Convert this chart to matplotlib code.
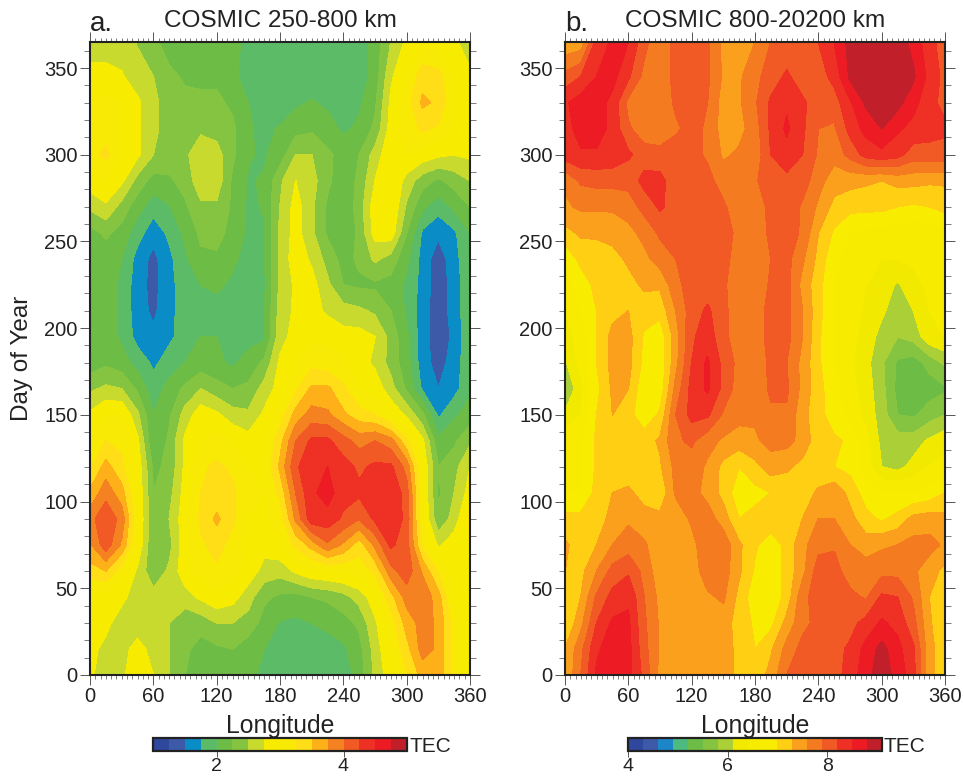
import matplotlib
matplotlib.use("Agg")
import matplotlib.pyplot as plt
import numpy as np
from matplotlib.ticker import MultipleLocator

plt.rcParams['font.family'] = ['Liberation Sans', 'DejaVu Sans']

lon = list(range(0, 361, 15))
day = list(range(0, 346, 15)) + [365]

# Panel a: TEC, rows run from day 0 to day 365, columns from longitude 0 to 360
tec_a = [
[2.8,2.6,2.7,2.9,2.75,2.5,2.25,2.1,2.2,2.25,2.05,1.95,1.85,1.8,1.8,1.8,1.85,2.1,2.55,2.9,3.2,3.6,3.7,3.1,2.8],
[2.8,2.7,2.65,2.85,2.65,2.5,2.3,2.15,2.2,2.25,2.1,2.0,1.9,1.85,1.85,1.9,1.95,2.15,2.6,3.0,3.4,3.85,3.7,3.1,2.8],
[2.85,2.8,2.65,2.6,2.55,2.5,2.3,2.35,2.5,2.5,2.4,2.15,1.98,1.95,2.0,2.05,2.15,2.3,2.7,3.1,3.6,3.85,3.7,3.1,2.8],
[2.85,2.9,2.8,2.65,2.6,2.6,2.65,2.8,2.95,2.85,2.6,2.3,2.2,2.15,2.25,2.3,2.4,2.6,2.9,3.4,3.85,3.95,3.6,2.9,2.8],
[3.4,3.5,3.1,2.7,2.3,2.55,2.9,3.1,3.2,3.1,2.9,2.65,2.6,2.8,2.95,3.0,3.05,3.1,3.3,3.9,4.15,3.7,3.2,2.9,2.85],
[3.7,4.15,3.7,2.95,2.25,2.4,2.9,3.2,3.35,3.15,2.95,2.85,2.95,3.3,3.6,3.95,3.7,3.35,3.8,4.3,4.1,3.2,2.7,2.9,3.0],
[3.9,4.2,3.9,3.0,2.25,2.5,2.9,3.3,3.55,3.3,3.0,2.95,3.1,3.8,4.4,4.4,4.2,4.0,4.3,4.5,4.15,3.0,2.3,2.6,3.1],
[3.55,3.9,3.6,2.95,2.25,2.4,2.85,3.25,3.35,3.3,3.05,3.0,3.3,4.0,4.45,4.6,4.35,4.3,4.45,4.5,4.1,3.0,2.2,2.5,2.85],
[3.2,3.6,3.3,2.9,2.2,2.3,2.8,3.2,3.3,3.2,3.0,3.0,3.55,4.2,4.45,4.5,4.35,4.2,4.3,4.3,3.9,2.95,2.25,2.4,2.75],
[3.1,3.25,3.2,2.8,2.0,2.3,2.8,3.0,3.1,3.0,2.85,2.95,3.4,4.0,4.3,4.3,4.1,3.9,4.0,3.85,3.3,2.8,2.05,2.2,2.45],
[2.8,3.0,3.0,2.55,2.0,2.2,2.6,2.9,2.8,2.6,2.55,2.8,3.1,3.6,3.85,3.8,3.55,3.35,3.25,2.95,2.7,2.3,1.7,1.95,2.1],
[2.45,2.55,2.5,2.2,1.85,2.1,2.3,2.5,2.35,2.25,2.3,2.6,2.85,3.2,3.55,3.55,3.3,3.0,2.9,2.6,2.2,1.7,1.5,1.65,1.95],
[2.1,2.2,2.1,1.9,1.7,1.85,2.0,2.1,2.05,1.95,2.1,2.3,2.8,3.0,3.15,3.1,3.05,2.85,2.7,2.4,2.1,1.6,1.4,1.6,1.95],
[2.1,2.15,1.95,1.65,1.55,1.7,1.85,2.0,2.0,1.9,1.9,1.95,2.65,2.85,2.95,2.95,2.85,2.85,2.75,2.4,2.05,1.6,1.35,1.55,1.95],
[2.1,2.15,1.95,1.6,1.45,1.65,1.9,1.95,1.9,1.85,1.85,1.98,2.6,2.8,2.85,2.7,2.6,2.55,2.45,2.25,1.95,1.6,1.35,1.6,1.95],
[2.1,2.1,1.95,1.6,1.42,1.65,1.9,2.0,2.05,1.95,1.85,1.95,2.55,2.8,2.85,2.55,2.25,2.2,2.2,2.15,1.95,1.65,1.35,1.6,1.95],
[2.1,2.1,2.0,1.65,1.42,1.68,1.95,2.2,2.2,2.05,1.9,1.97,2.55,2.9,2.7,2.4,2.15,2.3,2.55,2.4,2.05,1.65,1.35,1.65,1.95],
[2.15,2.3,2.15,1.85,1.6,1.8,2.05,2.3,2.35,2.15,1.95,1.97,2.55,2.85,2.55,2.2,2.05,2.3,2.85,2.9,2.25,1.7,1.55,1.7,2.0],
[2.55,2.7,2.4,2.1,1.85,1.98,2.2,2.45,2.45,2.2,1.95,2.02,2.5,2.85,2.55,2.2,2.05,2.35,2.9,3.0,2.45,2.05,1.85,2.05,2.25],
[2.9,3.0,2.8,2.4,2.15,2.2,2.35,2.65,2.65,2.2,1.98,2.02,2.45,2.75,2.6,2.3,2.1,2.3,2.75,3.0,2.65,2.35,2.2,2.35,2.5],
[3.15,3.3,3.0,2.8,2.5,2.4,2.45,2.65,2.6,2.3,2.02,1.97,2.1,2.5,2.5,2.3,2.15,2.25,2.6,2.95,3.0,2.9,2.8,2.75,2.8],
[3.05,3.15,3.0,2.8,2.55,2.4,2.35,2.45,2.4,2.3,2.02,1.95,2.02,2.15,2.2,2.1,1.95,2.05,2.3,2.85,3.1,3.3,3.2,2.95,2.85],
[3.0,3.05,3.0,2.8,2.55,2.4,2.3,2.3,2.3,2.2,2.0,1.85,1.85,1.95,2.02,1.95,1.9,1.95,2.2,2.8,3.1,3.55,3.45,3.0,2.85],
[2.85,2.85,2.78,2.6,2.5,2.3,2.22,2.2,2.2,2.05,1.9,1.85,1.85,1.85,1.85,1.85,1.85,1.85,2.1,2.7,3.0,3.4,3.35,2.9,2.8],
[2.6,2.6,2.6,2.48,2.3,2.15,2.1,2.1,2.1,2.05,1.95,1.85,1.85,1.85,1.85,1.85,1.85,1.85,2.1,2.5,2.8,2.95,2.9,2.8,2.6],
]

# Panel b: TEC, same layout
tec_b = [
[7.3,7.9,8.55,8.65,8.6,8.1,7.5,7.45,7.45,7.45,7.45,7.2,7.1,7.4,7.9,8.0,8.05,8.1,8.3,8.7,8.95,8.7,8.3,7.4,7.1],
[7.3,7.8,8.45,8.65,8.6,8.0,7.55,7.45,7.45,7.45,7.45,7.2,7.0,7.25,7.7,8.0,8.05,8.1,8.25,8.6,8.9,8.6,8.25,7.4,7.1],
[7.0,7.5,8.2,8.55,8.55,7.95,7.55,7.45,7.45,7.45,7.45,7.15,6.95,6.9,7.4,7.8,8.0,8.05,8.1,8.3,8.55,8.4,8.0,7.35,7.0],
[7.0,7.3,7.95,8.3,8.45,7.9,7.5,7.4,7.4,7.55,7.65,7.2,6.8,6.75,7.1,7.8,8.05,8.1,8.0,7.85,8.25,8.2,7.85,7.3,7.0],
[7.3,7.2,7.6,8.0,8.15,7.8,7.4,7.35,7.45,7.75,7.75,7.35,6.95,6.8,7.1,7.5,8.05,8.05,7.7,7.75,7.8,7.8,7.65,7.45,7.2],
[7.35,7.15,7.3,7.6,7.75,7.65,7.35,7.3,7.5,7.8,7.8,7.35,7.05,6.8,7.1,7.5,7.8,7.85,7.6,7.45,7.55,7.6,7.7,7.7,7.55],
[7.1,7.1,7.15,7.4,7.55,7.4,7.4,7.4,7.65,7.75,7.45,7.0,7.1,7.2,7.1,7.3,7.6,7.6,7.4,7.1,6.95,7.1,7.4,7.45,7.4],
[6.7,6.7,7.1,7.3,7.35,7.2,7.05,7.65,7.7,7.5,7.2,6.8,6.9,7.0,7.1,7.15,7.35,7.5,7.2,6.85,6.7,6.7,6.7,6.8,7.0],
[6.65,6.65,7.05,7.15,7.15,7.15,7.25,7.7,7.75,7.55,7.2,7.0,7.2,7.45,7.35,7.2,7.1,7.0,6.9,6.55,6.1,6.0,6.2,6.4,6.5],
[6.6,6.65,7.05,7.1,7.15,7.15,7.35,7.85,7.95,7.7,7.55,7.45,7.55,7.7,7.7,7.5,7.1,7.05,6.95,6.5,6.0,5.95,5.95,6.15,6.3],
[6.15,6.4,7.0,7.3,7.1,6.8,7.05,7.9,8.3,8.25,7.85,7.7,7.65,7.85,7.85,7.4,7.1,6.85,6.6,6.3,5.95,5.5,5.45,5.65,5.8],
[5.8,6.3,6.9,7.35,7.3,6.75,6.8,7.7,8.3,8.55,8.1,7.75,7.7,7.95,7.95,7.5,7.1,6.8,6.5,6.25,5.9,5.4,5.35,5.35,5.45],
[6.05,6.5,7.0,7.4,7.4,6.9,6.75,7.5,8.2,8.55,8.1,7.8,7.75,7.95,7.9,7.5,7.05,6.7,6.45,6.2,5.85,5.45,5.35,5.6,5.85],
[6.3,6.5,7.0,7.4,7.4,6.95,6.8,7.45,8.15,8.35,8.0,7.7,7.75,8.0,8.0,7.6,7.05,6.7,6.5,6.25,6.0,5.8,5.9,6.3,6.4],
[6.4,6.7,7.0,7.2,7.3,7.15,7.1,7.6,8.05,8.25,8.0,7.65,7.75,8.0,8.0,7.6,7.1,6.7,6.55,6.35,6.15,5.95,6.1,6.4,6.5],
[6.6,6.8,7.1,7.15,7.2,7.35,7.35,7.8,8.05,8.05,7.95,7.7,7.65,7.95,8.0,7.5,7.1,6.7,6.55,6.4,6.3,6.05,6.3,6.45,6.5],
[6.75,7.1,7.15,7.2,7.35,7.5,7.75,7.9,8.05,8.1,8.0,7.75,7.7,7.9,8.0,7.65,7.2,6.75,6.6,6.5,6.4,6.4,6.45,6.5,6.55],
[7.2,7.35,7.35,7.4,7.5,7.7,7.95,8.05,8.1,8.1,8.05,7.8,7.75,7.95,8.05,7.85,7.3,6.95,6.7,6.6,6.55,6.55,6.5,6.5,6.65],
[7.55,7.65,7.65,7.65,7.75,8.0,8.25,8.05,8.05,8.1,7.95,7.7,7.7,8.0,8.1,7.85,7.55,7.2,7.1,7.1,7.1,7.0,6.95,7.0,7.1],
[7.65,7.95,8.0,8.0,8.0,8.3,8.3,8.0,8.05,8.0,7.75,7.7,7.85,8.1,8.1,8.05,7.7,7.45,7.4,7.35,7.3,7.4,7.4,7.35,7.35],
[8.35,8.45,8.45,8.4,8.25,8.05,8.0,8.05,8.0,7.85,7.55,7.65,7.7,8.2,8.4,8.2,7.85,7.7,8.0,8.3,8.4,8.3,8.05,8.1,8.1],
[8.35,8.65,8.65,8.4,7.95,7.7,7.7,7.85,8.0,7.85,7.45,7.5,7.75,8.25,8.55,8.25,7.9,7.85,8.3,8.6,8.8,8.55,8.4,8.3,8.25],
[8.45,8.65,8.65,8.4,7.8,7.65,7.7,7.95,8.0,7.9,7.45,7.55,7.85,8.25,8.45,8.25,8.05,8.05,8.45,8.85,8.95,8.9,8.6,8.3,8.1],
[8.0,8.2,8.5,8.6,8.25,7.8,7.7,8.0,8.05,7.95,7.55,7.55,7.8,8.05,8.25,8.05,8.05,8.3,8.85,8.95,8.95,8.95,8.85,8.4,8.1],
[7.35,7.4,8.3,8.55,8.5,8.0,7.65,8.0,8.05,7.95,7.5,7.35,7.6,7.9,8.0,8.05,8.2,8.5,8.9,8.95,8.95,8.95,8.7,8.3,8.05],
]

levels_a = [1 + 0.25 * i for i in range(17)]
levels_b = [4 + 0.3 * i for i in range(18)]
colors_a = ['#2F479C', '#3D5AA8', '#0A8CC6', '#5CBB66', '#6CBC45', '#85C440', '#C8DA2E',
            '#F7EC00', '#F9EA06', '#FFDD17', '#FDB017', '#F58220', '#F15A24', '#EE3124',
            '#ED1C24', '#C1202A']
colors_b = ['#2F479C', '#3D5AA8', '#1C86C8', '#4DBA80', '#6CBC45', '#85C440', '#AACF37',
            '#F2E900', '#F7EC00', '#F8EC00', '#FFCF14', '#FBA01C', '#F47B20', '#F15A24',
            '#EE3124', '#ED1C24', '#C1202A']

W, H = 964, 777
TEXT = '#222222'


def axes_px(x0, y0, x1, y1):
    return fig.add_axes([x0 / W, 1 - y1 / H, (x1 - x0) / W, (y1 - y0) / H])


def panel(x0, values, levels, colors, letter, title, cbar_x, cbar_ticks, ylabel):
    ax = axes_px(x0, 42, x0 + 380, 675)
    cs = ax.contourf(lon, day, np.array(values), levels=levels, colors=colors)
    cs.set_edgecolor('face')
    cs.set_linewidth(0.4)
    ax.set_xlim(0, 360)
    ax.set_ylim(0, 365)
    ax.xaxis.set_major_locator(MultipleLocator(60))
    ax.xaxis.set_minor_locator(MultipleLocator(5))
    ax.yaxis.set_major_locator(MultipleLocator(50))
    ax.yaxis.set_minor_locator(MultipleLocator(10))
    ax.tick_params(axis='both', which='major', direction='out', length=7, width=0.7,
                   color='#555555', labelsize=14.5, labelcolor=TEXT,
                   top=True, right=True, pad=2)
    ax.tick_params(axis='x', which='minor', direction='out', length=3, width=0.6,
                   color='#666666', top=True)
    ax.tick_params(axis='y', which='minor', direction='out', length=4, width=0.6,
                   color='#666666', right=True)
    for sp in ax.spines.values():
        sp.set_linewidth(1.5)
        sp.set_color(TEXT)
        sp.set_zorder(5)
    fig.text((x0 + 190) / W, 1 - 726 / H, 'Longitude', ha='center', va='center',
             fontsize=17.8, color=TEXT)
    fig.text((x0 + 190) / W, 1 - 21 / H, title, ha='center', va='center',
             fontsize=17.6, color=TEXT)
    fig.text(x0 / W, 1 - 24 / H, letter, ha='left', va='center',
             fontsize=20, color=TEXT)
    if ylabel:
        fig.text(22 / W, 1 - 358 / H, ylabel, rotation=90, ha='center', va='center',
                 fontsize=17.5, color=TEXT)
    cax = axes_px(cbar_x, 738, cbar_x + 254, 751)
    cb = fig.colorbar(cs, cax=cax, orientation='horizontal', ticks=cbar_ticks, spacing='proportional')
    cb.ax.tick_params(length=4.5, width=0.7, color='#555555', labelsize=14,
                      labelcolor=TEXT, pad=0.5)
    cb.ax.minorticks_off()
    cb.outline.set_linewidth(1.6)
    cb.outline.set_edgecolor(TEXT)
    fig.text((cbar_x + 256) / W, 1 - 746 / H, 'TEC', ha='left', va='center',
             fontsize=15, color=TEXT)
    return ax


fig = plt.figure(figsize=(W / 100, H / 100), dpi=100, facecolor='white')
panel(90, tec_a, levels_a, colors_a, 'a.', 'COSMIC 250-800 km', 153, [2, 4], 'Day of Year')
panel(565, tec_b, levels_b, colors_b, 'b.', 'COSMIC 800-20200 km', 628, [4, 6, 8], None)
fig.savefig('out.png', dpi=100)
